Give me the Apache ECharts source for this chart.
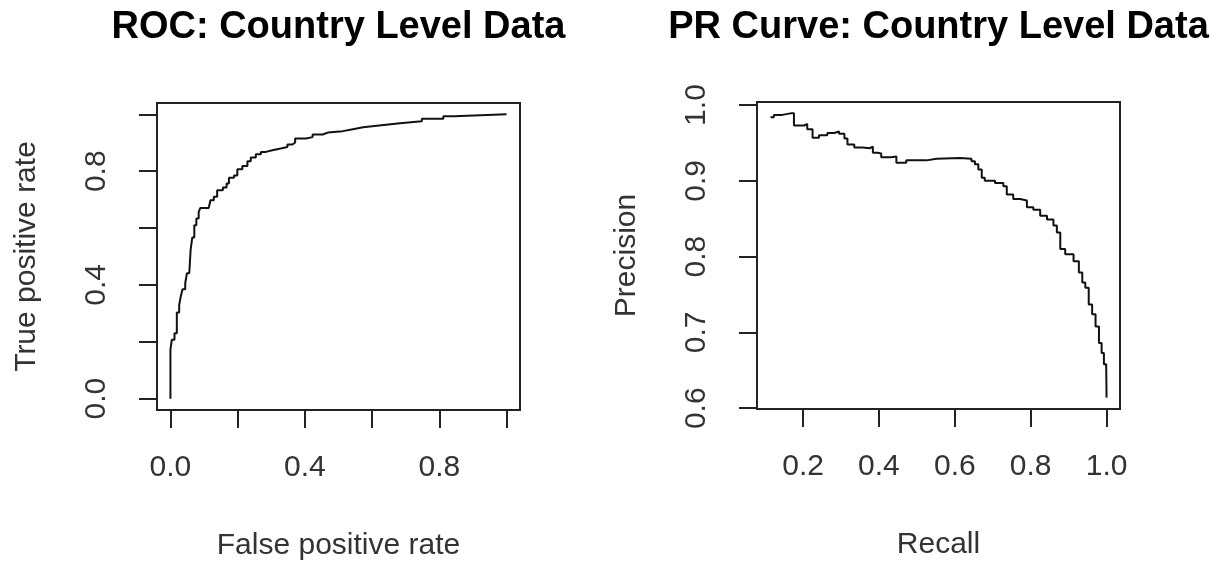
<!DOCTYPE html>
<html>
<head>
<meta charset="utf-8">
<script src="https://cdn.jsdelivr.net/npm/echarts@6/dist/echarts.min.js"></script>
<style>
  html, body { margin: 0; padding: 0; background: #fff; }
  #chart { width: 1217px; height: 567px; }
</style>
</head>
<body>
<div id="chart"></div>
<script>
// ROC curve: false positive rate vs true positive rate (stair steps)
const rocFpr = [0.000, 0.000, 0.004, 0.012, 0.019, 0.026, 0.031, 0.036, 0.044, 0.049, 0.056, 0.060,
  0.065, 0.071, 0.077, 0.084, 0.089, 0.114, 0.119, 0.129, 0.139, 0.156, 0.167, 0.174, 0.189, 0.199,
  0.214, 0.229, 0.239, 0.254, 0.269, 0.284, 0.303, 0.328, 0.348, 0.363, 0.371, 0.403, 0.423, 0.453,
  0.468, 0.513, 0.543, 0.573, 0.628, 0.683, 0.748, 0.812, 0.844, 1.000];
const rocTpr = [0.000, 0.172, 0.207, 0.230, 0.303, 0.330, 0.361, 0.385, 0.406, 0.441, 0.447, 0.523,
  0.567, 0.610, 0.634, 0.657, 0.671, 0.671, 0.698, 0.710, 0.733, 0.743, 0.757, 0.777, 0.785, 0.807,
  0.818, 0.835, 0.848, 0.860, 0.868, 0.874, 0.880, 0.885, 0.894, 0.901, 0.915, 0.920, 0.929, 0.936,
  0.941, 0.948, 0.955, 0.962, 0.969, 0.976, 0.985, 0.993, 1.000, 1.000];

// Precision-recall curve
const prRecall = [0.114, 0.123, 0.145, 0.167, 0.176, 0.203, 0.211, 0.225, 0.242, 0.264, 0.282, 0.295,
  0.309, 0.317, 0.335, 0.357, 0.375, 0.384, 0.397, 0.406, 0.432, 0.446, 0.463, 0.472, 0.507, 0.525,
  0.552, 0.613, 0.644, 0.653, 0.662, 0.671, 0.679, 0.706, 0.728, 0.737, 0.754, 0.772, 0.790, 0.807,
  0.825, 0.843, 0.860, 0.869, 0.878, 0.891, 0.913, 0.927, 0.936, 0.944, 0.953, 0.962, 0.971, 0.980,
  0.987, 0.993, 0.999, 1.000];
const prPrecision = [0.984, 0.987, 0.989, 0.989, 0.973, 0.975, 0.968, 0.957, 0.960, 0.963, 0.965, 0.962,
  0.956, 0.948, 0.944, 0.943, 0.945, 0.937, 0.936, 0.931, 0.932, 0.924, 0.924, 0.927, 0.927, 0.929,
  0.930, 0.929, 0.926, 0.922, 0.915, 0.904, 0.900, 0.897, 0.893, 0.882, 0.876, 0.874, 0.865, 0.862,
  0.854, 0.849, 0.841, 0.832, 0.810, 0.803, 0.794, 0.779, 0.766, 0.759, 0.737, 0.724, 0.708, 0.686,
  0.673, 0.658, 0.658, 0.614];

// Tick positions and labelled ticks
const rocTicks = [0, 0.2, 0.4, 0.6, 0.8, 1.0];
const rocTickLabels = [0, 0.4, 0.8];
const recallTicks = [0.2, 0.4, 0.6, 0.8, 1.0];
const precisionTicks = [0.6, 0.7, 0.8, 0.9, 1.0];

const titles = ['ROC: Country Level Data', 'PR Curve: Country Level Data'];
const axisNames = {
  rocX: 'False positive rate', rocY: 'True positive rate',
  prX: 'Recall', prY: 'Precision'
};

// R-style 4% padding around the data range
function padRange(vals) {
  const lo = Math.min(...vals), hi = Math.max(...vals);
  const p = (hi - lo) * 0.04;
  return [lo - p, hi + p];
}

const FONT = '"Liberation Sans", Arial, sans-serif';
const INK = '#222';
const LABEL = '#333';

function valueAxis(gridIndex, range, ticks, labels, name, isY) {
  return {
    type: 'value',
    gridIndex: gridIndex,
    min: range[0],
    max: range[1],
    name: name,
    nameLocation: 'middle',
    nameGap: isY ? 115 : 121,
    nameTextStyle: { fontFamily: FONT, fontSize: 30, color: LABEL },
    axisLine: { show: false, onZero: false },
    splitLine: { show: false },
    axisTick: {
      show: true, inside: false, length: 18,
      customValues: ticks,
      lineStyle: { color: INK, width: 2 }
    },
    axisLabel: {
      show: true,
      customValues: labels,
      rotate: isY ? 90 : 0,
      margin: isY ? 45 : 43,
      fontFamily: FONT, fontSize: 30, color: LABEL,
      formatter: v => v.toFixed(1)
    }
  };
}

const chart = echarts.init(document.getElementById('chart'), null, { renderer: 'canvas' });

const rocX = padRange(rocFpr), rocY = padRange(rocTpr);
const prX = padRange(prRecall), prY = padRange(prPrecision);

chart.setOption({
  animation: false,
  backgroundColor: '#fff',
  grid: [
    { left: 157, top: 103, width: 363, height: 307, show: true, borderColor: INK, borderWidth: 2, backgroundColor: 'transparent' },
    { left: 757, top: 102, width: 363, height: 307, show: true, borderColor: INK, borderWidth: 2, backgroundColor: 'transparent' }
  ],
  xAxis: [
    valueAxis(0, rocX, rocTicks, rocTickLabels, axisNames.rocX, false),
    valueAxis(1, prX, recallTicks, recallTicks, axisNames.prX, false)
  ],
  yAxis: [
    valueAxis(0, rocY, rocTicks, rocTickLabels, axisNames.rocY, true),
    valueAxis(1, prY, precisionTicks, precisionTicks, axisNames.prY, true)
  ],
  graphic: [
    { type: 'text', x: 338.5, y: 28, style: { text: titles[0], font: 'bold 38px ' + FONT, fill: '#000', align: 'center', verticalAlign: 'middle', textAlign: 'center', textVerticalAlign: 'middle' } },
    { type: 'text', x: 938.5, y: 28, style: { text: titles[1], font: 'bold 38px ' + FONT, fill: '#000', align: 'center', verticalAlign: 'middle', textAlign: 'center', textVerticalAlign: 'middle' } }
  ],
  series: [
    {
      type: 'line', xAxisIndex: 0, yAxisIndex: 0,
      data: rocFpr.map((x, i) => [x, rocTpr[i]]),
      step: 'end', showSymbol: false, symbol: 'none',
      lineStyle: { color: '#111', width: 2 }
    },
    {
      type: 'line', xAxisIndex: 1, yAxisIndex: 1,
      data: prRecall.map((x, i) => [x, prPrecision[i]]),
      step: 'end', showSymbol: false, symbol: 'none',
      lineStyle: { color: '#111', width: 2 }
    }
  ]
});
</script>
</body>
</html>
